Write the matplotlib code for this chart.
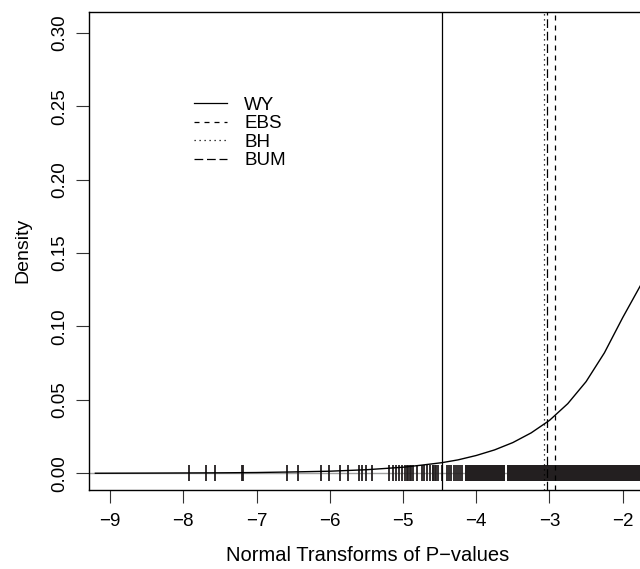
import numpy as np
import matplotlib
matplotlib.use("Agg")
import matplotlib.pyplot as plt

plt.rcParams['font.family'] = ['Liberation Sans', 'DejaVu Sans']

# density curve
curve_x = [-9.2, -8.5, -7.5, -7.0, -6.5, -6.0, -5.5, -5.0, -4.75, -4.47, -4.25,
           -4.0, -3.75, -3.5, -3.25, -3.0, -2.75, -2.5, -2.25, -2.0, -1.75,
           -1.5, -1.25]
curve_y = [0.0000, 0.0001, 0.0003, 0.0005, 0.0009, 0.0014, 0.0024, 0.0041,
           0.0055, 0.0072, 0.0091, 0.0121, 0.0159, 0.0209, 0.0275, 0.0360,
           0.0474, 0.0624, 0.0820, 0.1060, 0.1285, 0.1520, 0.1780]

# sparse rug positions
rug_x = [-7.917, -7.689, -7.566, -7.193, -7.180, -6.588, -6.438, -6.124, -6.010,
         -5.860, -5.746, -5.596, -5.564, -5.505, -5.427, -5.186, -5.140, -5.095,
         -5.050, -5.009, -4.974, -4.950, -4.930, -4.910, -4.890, -4.870, -4.813,
         -4.745, -4.713, -4.676, -4.631, -4.594, -4.586, -4.558, -4.550, -4.517,
         -4.472, -4.40, -4.37, -4.34, -4.31, -4.28, -4.25, -4.22, -4.19]
# dense rug intervals (start, end)
rug_dense_start = [-4.153, -3.585]
rug_dense_end = [-3.607, -1.2]

# cut-off lines
methods = ['WY', 'EBS', 'BH', 'BUM']
cutoffs = [-4.467, -2.924, -3.074, -3.033]
styles = ['-', (0, (4, 4)), (0, (1, 3)), (0, (7, 3))]

x_ticks = [-9, -8, -7, -6, -5, -4, -3, -2]
y_ticks = [0.00, 0.05, 0.10, 0.15, 0.20, 0.25, 0.30]

W, H = 640, 569
fig = plt.figure(figsize=(W / 100, H / 100), dpi=100)
left_px, right_px, top_px, bot_px = 89.3, 646, 11.7, 490
ax = fig.add_axes([left_px / W, 1 - bot_px / H, (right_px - left_px) / W,
                   (bot_px - top_px) / H])
ax.set_xlim(-9.283, -9.283 + (right_px - left_px) / 73.24)
ax.set_ylim(-0.0114, 0.3143)

ax.axhline(0, color='#a0a0a0', lw=1.0, zorder=1)
ax.plot(curve_x, curve_y, color='black', lw=1.0, zorder=3)
h = 0.0055
ax.vlines(rug_x, -h, h, color='#231f20', lw=1.3, zorder=2)
for a, b in zip(rug_dense_start, rug_dense_end):
    ax.fill_between([a, b], [-h, -h], [h, h], color='#231f20', lw=0, zorder=2)

for m, c, s in zip(methods, cutoffs, styles):
    ax.axvline(c, color='black', lw=0.9, linestyle=s, label=m, zorder=4)

ax.set_xticks(x_ticks)
ax.set_xticklabels([("−%d" % abs(t)) for t in x_ticks])
ax.set_yticks(y_ticks)
ax.set_yticklabels(["%.2f" % t for t in y_ticks], rotation=90, va='center')
ax.tick_params(axis='both', direction='out', length=9.4, width=0.8,
               labelsize=13.5, color='#333333')
ax.tick_params(axis='x', pad=7)
ax.tick_params(axis='y', pad=6)
for sp in ax.spines.values():
    sp.set_linewidth(1.0)

ax.set_xlabel("Normal Transforms of P−values", fontsize=14.5, labelpad=11.5)
ax.set_ylabel("Density", fontsize=14, labelpad=14)

leg = ax.legend(loc='upper left', bbox_to_anchor=(185 / W, 1 - 87 / H),
                bbox_transform=fig.transFigure, frameon=False, fontsize=13.5,
                handlelength=1.75, handletextpad=0.9, labelspacing=0.08,
                borderpad=0)

fig.savefig("out.png", dpi=100)
